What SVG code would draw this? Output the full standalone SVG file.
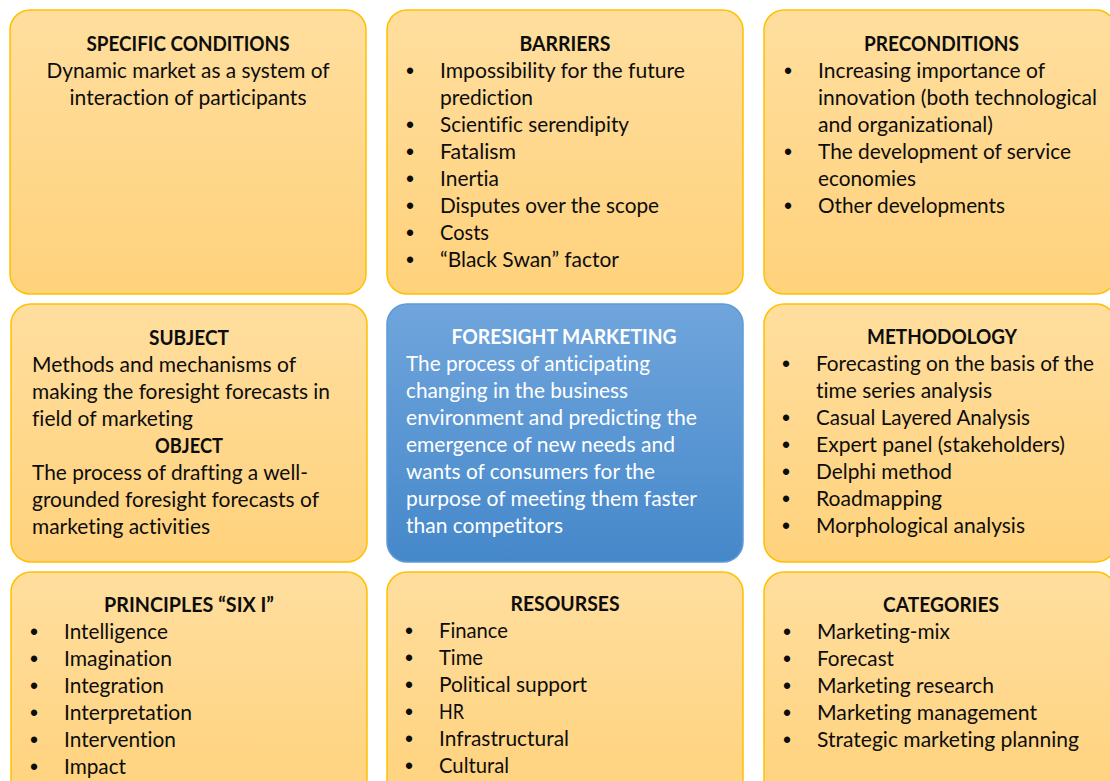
<svg xmlns="http://www.w3.org/2000/svg" width="1110" height="781" viewBox="0 0 1110 781">
<defs>
<linearGradient id="gOr" x1="0" y1="0" x2="0" y2="1">
<stop offset="0" stop-color="#FFDE9E"/>
<stop offset="1" stop-color="#FFD27C"/>
</linearGradient>
<linearGradient id="gBl" x1="0" y1="0" x2="0" y2="1">
<stop offset="0" stop-color="#70A5DC"/>
<stop offset="1" stop-color="#4588CA"/>
</linearGradient>
<style>
.box{fill:url(#gOr);stroke:#FFC000;stroke-width:1.5}
.blue{fill:url(#gBl);stroke:#5E9BD6;stroke-width:1.5}
text{font-family:Lato,"Open Sans","Liberation Sans",sans-serif;font-size:21px;fill:#0d0d0d;font-variant-ligatures:none;font-feature-settings:"liga" 0,"dlig" 0}
.t{font-weight:bold;text-anchor:middle}
.w{fill:#ffffff}
.b{font-family:"Liberation Sans",Arial,sans-serif;font-size:23px;text-anchor:middle}
</style>
</defs>
<rect width="1110" height="781" fill="#ffffff"/>

<g id="specific-conditions">
<rect class="box" x="10" y="10" width="356" height="284" rx="20"/>
<text class="t" x="188" y="51" textLength="203" lengthAdjust="spacingAndGlyphs">SPECIFIC CONDITIONS</text>
<text x="188" y="78" text-anchor="middle" textLength="283" lengthAdjust="spacingAndGlyphs">Dynamic market as a system of</text>
<text x="188" y="105" text-anchor="middle" textLength="237" lengthAdjust="spacingAndGlyphs">interaction of participants</text>
</g>

<g id="barriers">
<rect class="box" x="387" y="10" width="356" height="284" rx="20"/>
<text class="t" x="565" y="51" textLength="91" lengthAdjust="spacingAndGlyphs">BARRIERS</text>
<text class="b" x="410" y="79">•</text>
<text class="b" x="410" y="133">•</text>
<text class="b" x="410" y="160">•</text>
<text class="b" x="410" y="187">•</text>
<text class="b" x="410" y="214">•</text>
<text class="b" x="410" y="241">•</text>
<text class="b" x="410" y="268">•</text>
<text x="440" y="78" textLength="245" lengthAdjust="spacingAndGlyphs">Impossibility for the future</text>
<text x="440" y="105" textLength="93" lengthAdjust="spacingAndGlyphs">prediction</text>
<text x="440" y="132" textLength="189" lengthAdjust="spacingAndGlyphs">Scientific serendipity</text>
<text x="440" y="159" textLength="76" lengthAdjust="spacingAndGlyphs">Fatalism</text>
<text x="440" y="186" textLength="59" lengthAdjust="spacingAndGlyphs">Inertia</text>
<text x="440" y="213" textLength="219" lengthAdjust="spacingAndGlyphs">Disputes over the scope</text>
<text x="440" y="240" textLength="49" lengthAdjust="spacingAndGlyphs">Costs</text>
<text x="440" y="267" textLength="179" lengthAdjust="spacingAndGlyphs">“Black Swan” factor</text>
</g>

<g id="preconditions">
<rect class="box" x="764" y="10" width="352" height="284" rx="20"/>
<text class="t" x="941.5" y="51" textLength="155" lengthAdjust="spacingAndGlyphs">PRECONDITIONS</text>
<text class="b" x="788" y="79">•</text>
<text class="b" x="788" y="160">•</text>
<text class="b" x="788" y="214">•</text>
<text x="818" y="78" textLength="227" lengthAdjust="spacingAndGlyphs">Increasing importance of</text>
<text x="818" y="105" textLength="279" lengthAdjust="spacingAndGlyphs">innovation (both technological</text>
<text x="818" y="132" textLength="175" lengthAdjust="spacingAndGlyphs">and organizational)</text>
<text x="818" y="159" textLength="253" lengthAdjust="spacingAndGlyphs">The development of service</text>
<text x="818" y="186" textLength="98" lengthAdjust="spacingAndGlyphs">economies</text>
<text x="818" y="213" textLength="187" lengthAdjust="spacingAndGlyphs">Other developments</text>
</g>

<g id="subject-object">
<rect class="box" x="11" y="304" width="356" height="258" rx="20"/>
<text class="t" x="189" y="345" textLength="80" lengthAdjust="spacingAndGlyphs">SUBJECT</text>
<text x="32" y="372" textLength="264" lengthAdjust="spacingAndGlyphs">Methods and mechanisms of</text>
<text x="32" y="399" textLength="298" lengthAdjust="spacingAndGlyphs">making the foresight forecasts in</text>
<text x="32" y="426" textLength="161" lengthAdjust="spacingAndGlyphs">field of marketing</text>
<text class="t" x="189" y="453" textLength="68" lengthAdjust="spacingAndGlyphs">OBJECT</text>
<text x="32" y="480" textLength="276" lengthAdjust="spacingAndGlyphs">The process of drafting a well-</text>
<text x="32" y="507" textLength="287" lengthAdjust="spacingAndGlyphs">grounded foresight forecasts of</text>
<text x="32" y="534" textLength="178" lengthAdjust="spacingAndGlyphs">marketing activities</text>
</g>

<g id="foresight-marketing">
<rect class="blue" x="387" y="304" width="356" height="258" rx="20"/>
<text class="t w" x="564" y="344" textLength="225" lengthAdjust="spacingAndGlyphs">FORESIGHT MARKETING</text>
<text class="w" x="406" y="371" textLength="244" lengthAdjust="spacingAndGlyphs">The process of anticipating</text>
<text class="w" x="406" y="398" textLength="222" lengthAdjust="spacingAndGlyphs">changing in the business</text>
<text class="w" x="406" y="425" textLength="291" lengthAdjust="spacingAndGlyphs">environment and predicting the</text>
<text class="w" x="406" y="452" textLength="269" lengthAdjust="spacingAndGlyphs">emergence of new needs and</text>
<text class="w" x="406" y="479" textLength="249" lengthAdjust="spacingAndGlyphs">wants of consumers for the</text>
<text class="w" x="406" y="506" textLength="291" lengthAdjust="spacingAndGlyphs">purpose of meeting them faster</text>
<text class="w" x="406" y="533" textLength="157" lengthAdjust="spacingAndGlyphs">than competitors</text>
</g>

<g id="methodology">
<rect class="box" x="764" y="304" width="352" height="258" rx="20"/>
<text class="t" x="942" y="344" textLength="150" lengthAdjust="spacingAndGlyphs">METHODOLOGY</text>
<text class="b" x="786" y="372">•</text>
<text class="b" x="786" y="426">•</text>
<text class="b" x="786" y="453">•</text>
<text class="b" x="786" y="480">•</text>
<text class="b" x="786" y="507">•</text>
<text class="b" x="786" y="534">•</text>
<text x="816" y="371" textLength="278" lengthAdjust="spacingAndGlyphs">Forecasting on the basis of the</text>
<text x="816" y="398" textLength="176" lengthAdjust="spacingAndGlyphs">time series analysis</text>
<text x="816" y="425" textLength="214" lengthAdjust="spacingAndGlyphs">Casual Layered Analysis</text>
<text x="816" y="452" textLength="249" lengthAdjust="spacingAndGlyphs">Expert panel (stakeholders)</text>
<text x="816" y="479" textLength="136" lengthAdjust="spacingAndGlyphs">Delphi method</text>
<text x="816" y="506" textLength="126" lengthAdjust="spacingAndGlyphs">Roadmapping</text>
<text x="816" y="533" textLength="209" lengthAdjust="spacingAndGlyphs">Morphological analysis</text>
</g>

<g id="principles">
<rect class="box" x="11" y="572" width="356" height="240" rx="20"/>
<text class="t" x="189" y="612" textLength="170" lengthAdjust="spacingAndGlyphs">PRINCIPLES “SIX I”</text>
<text class="b" x="34" y="640">•</text>
<text class="b" x="34" y="667">•</text>
<text class="b" x="34" y="694">•</text>
<text class="b" x="34" y="721">•</text>
<text class="b" x="34" y="748">•</text>
<text class="b" x="34" y="775">•</text>
<text x="64" y="639" textLength="104" lengthAdjust="spacingAndGlyphs">Intelligence</text>
<text x="64" y="666" textLength="108" lengthAdjust="spacingAndGlyphs">Imagination</text>
<text x="64" y="693" textLength="100" lengthAdjust="spacingAndGlyphs">Integration</text>
<text x="64" y="720" textLength="128" lengthAdjust="spacingAndGlyphs">Interpretation</text>
<text x="64" y="747" textLength="112" lengthAdjust="spacingAndGlyphs">Intervention</text>
<text x="64" y="774" textLength="62" lengthAdjust="spacingAndGlyphs">Impact</text>
</g>

<g id="resourses">
<rect class="box" x="387" y="572" width="356" height="240" rx="20"/>
<text class="t" x="565" y="611" textLength="109" lengthAdjust="spacingAndGlyphs">RESOURSES</text>
<text class="b" x="409" y="639">•</text>
<text class="b" x="409" y="666">•</text>
<text class="b" x="409" y="693">•</text>
<text class="b" x="409" y="720">•</text>
<text class="b" x="409" y="747">•</text>
<text class="b" x="409" y="774">•</text>
<text x="439" y="638" textLength="69" lengthAdjust="spacingAndGlyphs">Finance</text>
<text x="439" y="665" textLength="44" lengthAdjust="spacingAndGlyphs">Time</text>
<text x="439" y="692" textLength="148" lengthAdjust="spacingAndGlyphs">Political support</text>
<text x="439" y="719" textLength="25" lengthAdjust="spacingAndGlyphs">HR</text>
<text x="439" y="746" textLength="130" lengthAdjust="spacingAndGlyphs">Infrastructural</text>
<text x="439" y="773" textLength="70" lengthAdjust="spacingAndGlyphs">Cultural</text>
</g>

<g id="categories">
<rect class="box" x="764" y="572" width="352" height="240" rx="20"/>
<text class="t" x="941" y="612" textLength="116" lengthAdjust="spacingAndGlyphs">CATEGORIES</text>
<text class="b" x="787" y="640">•</text>
<text class="b" x="787" y="667">•</text>
<text class="b" x="787" y="694">•</text>
<text class="b" x="787" y="721">•</text>
<text class="b" x="787" y="748">•</text>
<text x="817" y="639" textLength="133" lengthAdjust="spacingAndGlyphs">Marketing-mix</text>
<text x="817" y="666" textLength="77" lengthAdjust="spacingAndGlyphs">Forecast</text>
<text x="817" y="693" textLength="177" lengthAdjust="spacingAndGlyphs">Marketing research</text>
<text x="817" y="720" textLength="220" lengthAdjust="spacingAndGlyphs">Marketing management</text>
<text x="817" y="747" textLength="262" lengthAdjust="spacingAndGlyphs">Strategic marketing planning</text>
</g>

<g id="connectors"></g>
</svg>
